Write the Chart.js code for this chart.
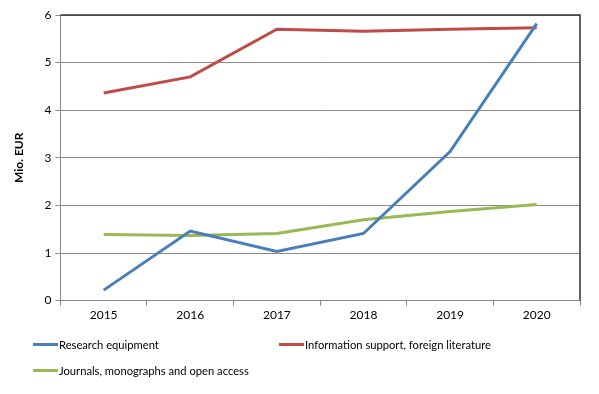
<!DOCTYPE html>
<html lang="en">
<head>
<meta charset="UTF-8">
<title>Funding by category</title>
<script src="https://cdn.jsdelivr.net/npm/chart.js"></script>
<style>
  body { margin: 0; background: #fff; }
  #wrap { position: relative; width: 599px; height: 394px; }
  #legend { position: absolute; left: 33px; top: 338px; width: 560px;
            font-family: Lato, "Open Sans", sans-serif; font-size: 11.2px; color: #000; }
  .item { position: absolute; display: flex; align-items: center; white-space: nowrap; }
  .swatch { width: 25px; height: 3px; margin-right: 1px; }
</style>
</head>
<body>
<div id="wrap">
  <canvas id="chart" width="599" height="394"></canvas>
  <div id="legend"></div>
</div>
<script>
const years = ['2015', '2016', '2017', '2018', '2019', '2020'];
const researchEquipment = [0.22, 1.46, 1.03, 1.41, 3.13, 5.82];
const infoSupport = [4.36, 4.70, 5.70, 5.66, 5.70, 5.73];
const journals = [1.39, 1.37, 1.41, 1.70, 1.87, 2.02];
const yTicks = [0, 1, 2, 3, 4, 5, 6];

const series = [
  { label: 'Research equipment', data: researchEquipment, color: '#4a7ebb' },
  { label: 'Information support, foreign literature', data: infoSupport, color: '#be4b48' },
  { label: 'Journals, monographs and open access', data: journals, color: '#98b954' }
];

// frame: dark top and right edge like the original plot area
const frame = {
  id: 'frame',
  afterDraw(chart) {
    const a = chart.chartArea, ctx = chart.ctx;
    ctx.save();
    ctx.strokeStyle = '#333';
    ctx.lineWidth = 1.5;
    ctx.beginPath();
    ctx.moveTo(a.left, a.top);
    ctx.lineTo(a.right, a.top);
    ctx.lineTo(a.right, a.bottom);
    ctx.stroke();
    ctx.restore();
  }
};

Chart.defaults.font.family = 'Lato, "Open Sans", sans-serif';
Chart.defaults.font.size = 12;
Chart.defaults.color = '#000';

new Chart(document.getElementById('chart'), {
  type: 'line',
  data: {
    labels: years,
    datasets: series.map(s => ({
      label: s.label,
      data: s.data,
      borderColor: s.color,
      backgroundColor: s.color,
      borderWidth: 3,
      pointRadius: 0,
      tension: 0,
      fill: false
    }))
  },
  options: {
    responsive: false,
    animation: false,
    layout: { padding: { top: 15, right: 19, bottom: 70, left: 8 } },
    plugins: { legend: { display: false }, tooltip: { enabled: false } },
    scales: {
      x: {
        offset: true,
        grid: { offset: true, drawOnChartArea: false, color: '#888', tickLength: 5 },
        border: { color: '#888' },
        ticks: { padding: 2 }
      },
      y: {
        min: 0,
        max: 6,
        afterBuildTicks: axis => { axis.ticks = yTicks.map(v => ({ value: v })); },
        grid: { color: '#8c8c8c', tickLength: 5 },
        border: { color: '#888' },
        ticks: { padding: 4 },
        title: { display: true, text: 'Mio. EUR', font: { weight: 'bold', size: 12 }, padding: { bottom: 14 } }
      }
    }
  },
  plugins: [frame]
});

// legend laid out in two columns like the reference
const legend = document.getElementById('legend');
const spots = [[0, 0], [246, 0], [0, 26]];
series.forEach((s, i) => {
  const d = document.createElement('div');
  d.className = 'item';
  d.style.left = spots[i][0] + 'px';
  d.style.top = spots[i][1] + 'px';
  d.innerHTML = '<span class="swatch" style="background:' + s.color + '"></span>' + s.label;
  legend.appendChild(d);
});
</script>
</body>
</html>
